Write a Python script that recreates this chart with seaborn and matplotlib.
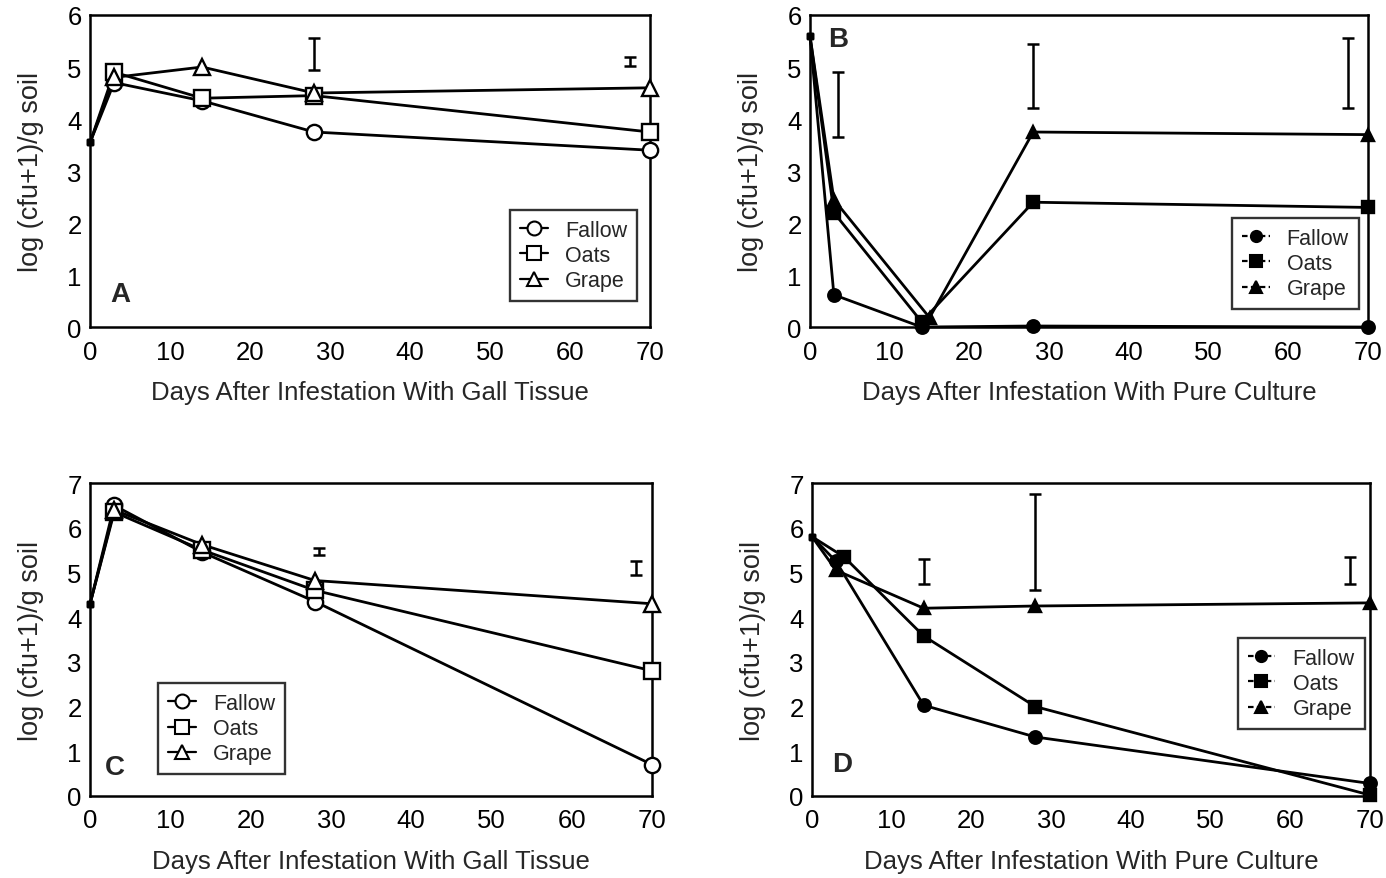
import numpy as np
import pandas as pd
import seaborn as sns
import matplotlib
matplotlib.use("Agg")
import matplotlib.pyplot as plt
from matplotlib.lines import Line2D

# values
crops = ["Fallow", "Oats", "Grape"]
days = [0, 3, 14, 28, 70]

# A: gall tissue, experiment 1
a_fallow = [3.55, 4.70, 4.35, 3.75, 3.40]
a_oats = [3.55, 4.90, 4.40, 4.45, 3.75]
a_grape = [3.55, 4.80, 5.00, 4.50, 4.60]
a_bar_x = [28, 67.5]
a_bar_lo = [4.95, 5.02]
a_bar_hi = [5.55, 5.20]

# B: pure culture, experiment 1
b_days_fallow = [0, 3, 14, 28, 70]
b_days_oats = [0, 3, 14, 28, 70]
b_days_grape = [0, 3, 15, 28, 70]
b_fallow = [5.60, 0.62, 0.00, 0.02, 0.00]
b_oats = [5.60, 2.20, 0.10, 2.40, 2.30]
b_grape = [5.60, 2.45, 0.18, 3.75, 3.70]
b_bar_x = [3.5, 28, 67.5]
b_bar_lo = [3.65, 4.22, 4.22]
b_bar_hi = [4.90, 5.45, 5.55]

# C: gall tissue, experiment 2
c_fallow = [4.30, 6.50, 5.45, 4.35, 0.70]
c_oats = [4.30, 6.35, 5.50, 4.60, 2.80]
c_grape = [4.30, 6.40, 5.62, 4.82, 4.30]
c_bar_x = [28.5, 68]
c_bar_lo = [5.40, 4.95]
c_bar_hi = [5.55, 5.25]

# D: pure culture, experiment 2
d_days_fallow = [0, 3, 14, 28, 70]
d_days_oats = [0, 4, 14, 28, 70]
d_days_grape = [0, 3, 14, 28, 70]
d_fallow = [5.80, 5.25, 2.03, 1.32, 0.28]
d_oats = [5.80, 5.35, 3.58, 2.00, 0.02]
d_grape = [5.80, 5.05, 4.20, 4.25, 4.32]
d_bar_x = [14, 28, 67.5]
d_bar_lo = [4.75, 4.60, 4.75]
d_bar_hi = [5.30, 6.75, 5.35]

open_markers = {"Fallow": "o", "Oats": "s", "Grape": "^"}

sns.set_theme(style="white")
plt.rcParams["font.family"] = ["Liberation Sans", "DejaVu Sans"]
plt.rcParams["axes.edgecolor"] = "black"
plt.rcParams["axes.linewidth"] = 1.8


def long_table(xs, ys):
    rows = []
    for crop, x, y in zip(crops, xs, ys):
        for xi, yi in zip(x, y):
            rows.append({"crop": crop, "day": xi, "value": yi})
    return pd.DataFrame(rows)


def draw_panel(ax, xs, ys, bar_x, bar_lo, bar_hi, filled, ymax, letter,
               letter_xy, xlabel, legend_xy):
    df = long_table(xs, ys)
    face = "black" if filled else "white"
    msize = 9 if filled else 11
    sns.lineplot(data=df, x="day", y="value", hue="crop", style="crop",
                 palette=["black"] * 3, dashes=False, markers=False,
                 lw=2.0, legend=False, ax=ax, clip_on=False)
    # markers (the day-0 inoculum point is a small dot)
    for crop in crops:
        sub = df[df["crop"] == crop]
        first = sub[sub["day"] == 0]
        rest = sub[sub["day"] > 0]
        ax.plot(rest["day"], rest["value"], ls="none",
                marker=open_markers[crop], ms=msize, mfc=face, mec="black",
                mew=1.7, clip_on=False, zorder=4)
        ax.plot(first["day"], first["value"], ls="none", marker="s", ms=4.5,
                color="black", clip_on=False, zorder=4)

    # LSD bars
    bar_x = np.array(bar_x)
    lo = np.array(bar_lo)
    hi = np.array(bar_hi)
    ax.errorbar(bar_x, (lo + hi) / 2, yerr=(hi - lo) / 2, fmt="none",
                ecolor="black", elinewidth=1.8, capsize=4.5, capthick=1.8)

    ax.set_xlim(0, 70)
    ax.set_ylim(0, ymax)
    ax.set_xticks(range(0, 71, 10))
    ax.set_yticks(range(0, ymax + 1))
    ax.tick_params(axis="both", direction="in", length=5, width=1.5,
                   labelsize=18.5, pad=6, colors="black")
    ax.tick_params(axis="x", pad=9)
    ax.set_xlabel(xlabel, fontsize=18.5, labelpad=12)
    ax.set_ylabel("log (cfu+1)/g soil", fontsize=19.5, labelpad=17)
    ax.text(letter_xy[0], letter_xy[1], letter, fontsize=20,
            fontweight="bold", ha="center", va="center")

    handles = [Line2D([], [], color="black", lw=1.6,
                      marker=open_markers[c], ms=msize - 1, mfc=face,
                      mec="black", mew=1.5,
                      ls="-" if not filled else (0, (2.5, 1.5)))
               for c in crops]
    leg = ax.legend(handles, crops, loc="lower left",
                    bbox_to_anchor=legend_xy, fontsize=15.5,
                    frameon=True, fancybox=False, handlelength=1.3,
                    handletextpad=0.8, borderpad=0.45, labelspacing=0.2,
                    edgecolor="black", borderaxespad=0)
    leg.get_frame().set_linewidth(1.7)


fig = plt.figure(figsize=(13.86, 8.79), dpi=100)
ax_a = fig.add_axes([0.065, 0.6268, 0.404, 0.355])
ax_b = fig.add_axes([0.5844, 0.6268, 0.4026, 0.355])
ax_c = fig.add_axes([0.065, 0.0933, 0.4055, 0.356])
ax_d = fig.add_axes([0.5859, 0.0933, 0.4026, 0.356])

gall = "Days After Infestation With Gall Tissue"
pure = "Days After Infestation With Pure Culture"

draw_panel(ax_a, [days] * 3, [a_fallow, a_oats, a_grape],
           a_bar_x, a_bar_lo, a_bar_hi, False, 6, "A", (3.75, 0.64),
           gall, (0.75, 0.084))
draw_panel(ax_b, [b_days_fallow, b_days_oats, b_days_grape],
           [b_fallow, b_oats, b_grape],
           b_bar_x, b_bar_lo, b_bar_hi, True, 6, "B", (3.5, 5.53),
           pure, (0.756, 0.058))
draw_panel(ax_c, [days] * 3, [c_fallow, c_oats, c_grape],
           c_bar_x, c_bar_lo, c_bar_hi, False, 7, "C", (3.1, 0.65),
           gall, (0.121, 0.07))
draw_panel(ax_d, [d_days_fallow, d_days_oats, d_days_grape],
           [d_fallow, d_oats, d_grape],
           d_bar_x, d_bar_lo, d_bar_hi, True, 7, "D", (3.75, 0.72),
           pure, (0.763, 0.214))

fig.savefig("out.png", dpi=100)
